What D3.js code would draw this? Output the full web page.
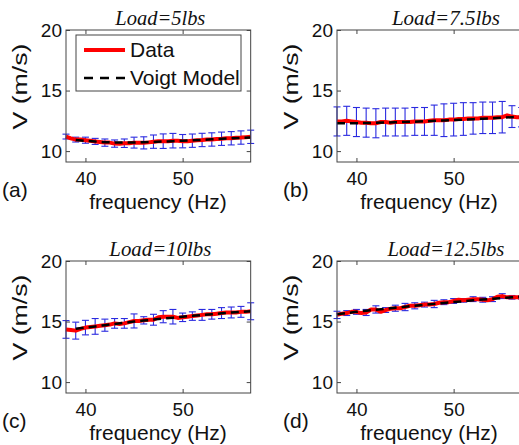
<!DOCTYPE html>
<html>
<head>
<meta charset="utf-8">
<script src="https://cdn.jsdelivr.net/npm/d3@7"></script>
<style>
  body { margin: 0; background: #fff; }
  svg { display: block; }
  .tick text { font-family: "Liberation Sans", Arial, sans-serif; font-size: 19px; fill: #111; }
  .tick line { stroke: #444; }
  .lbl { font-family: "Liberation Sans", Arial, sans-serif; font-size: 21px; fill: #111; }
  .ttl { font-family: "Liberation Serif", "Times New Roman", serif; font-style: italic; font-size: 21px; fill: #111; }
</style>
</head>
<body>
<div id="chart"></div>
<script>
const width = 519;
const height = 445;

// red curve, every 0.5 Hz from 38 to 57
const freqData = [38, 38.5, 39, 39.5, 40, 40.5, 41, 41.5, 42, 42.5, 43, 43.5, 44, 44.5, 45, 45.5, 46, 46.5, 47, 47.5,
  48, 48.5, 49, 49.5, 50, 50.5, 51, 51.5, 52, 52.5, 53, 53.5, 54, 54.5, 55, 55.5, 56, 56.5, 57];
// model and error bars, every 1 Hz
const freqBars = [38, 39, 40, 41, 42, 43, 44, 45, 46, 47, 48, 49, 50, 51, 52, 53, 54, 55, 56, 57];

const titles = ["Load=5lbs", "Load=7.5lbs", "Load=10lbs", "Load=12.5lbs"];
const titleWidths = [90, 108, 102, 117];
const tags = ["(a)", "(b)", "(c)", "(d)"];
const xTicks = [40, 50];
const yTicks = [10, 15, 20];
const legendLabels = ["Data", "Voigt Model"];

const dataA = [11.2, 11.05, 10.95, 10.95, 10.9, 10.85, 10.8, 10.75, 10.7, 10.7, 10.62, 10.6, 10.65, 10.65, 10.7, 10.68, 10.68, 10.72, 10.78, 10.82,
  10.82, 10.82, 10.86, 10.86, 10.82, 10.82, 10.86, 10.9, 10.92, 10.96, 10.96, 11.0, 11.02, 11.06, 11.06, 11.1, 11.12, 11.15, 11.18];
const modelA = [null, 10.92, 10.85, 10.79, 10.74, 10.71, 10.7, 10.71, 10.73, 10.76, 10.79, 10.82, 10.86, 10.89, 10.93, 10.97, 11.01, 11.05, 11.09, 11.13];
const errA = [0.2, 0.2, 0.25, 0.25, 0.3, 0.3, 0.35, 0.45, 0.5, 0.55, 0.6, 0.6, 0.55, 0.55, 0.55, 0.55, 0.55, 0.55, 0.55, 0.55];

const dataB = [12.45, 12.45, 12.5, 12.45, 12.4, 12.35, 12.35, 12.3, 12.3, 12.4, 12.4, 12.35, 12.4, 12.4, 12.4, 12.4, 12.45, 12.45, 12.45, 12.5,
  12.55, 12.55, 12.55, 12.6, 12.6, 12.65, 12.65, 12.7, 12.7, 12.7, 12.75, 12.75, 12.75, 12.8, 12.8, 12.95, 12.85, 12.8, 12.8];
const modelB = [12.3, 12.3, 12.3, 12.32, 12.34, 12.36, 12.38, 12.4, 12.43, 12.46, 12.5, 12.53, 12.57, 12.6, 12.64, 12.68, 12.72, 12.76, 12.8, 12.84];
const errB = [1.2, 1.2, 1.2, 1.2, 1.2, 1.15, 1.15, 1.15, 1.15, 1.15, 1.25, 1.35, 1.35, 1.35, 1.3, 1.3, 1.3, 1.3, 0.9, 0.8];

const dataC = [14.35, 14.3, 14.25, 14.4, 14.5, 14.55, 14.6, 14.65, 14.7, 14.75, 14.85, 14.8, 14.85, 14.95, 15.05, 15.05, 15.1, 15.15, 15.15, 15.35,
  15.4, 15.4, 15.4, 15.3, 15.35, 15.4, 15.45, 15.5, 15.55, 15.6, 15.6, 15.65, 15.7, 15.75, 15.75, 15.75, 15.8, 15.8, 15.85];
const modelC = [null, 14.4, 14.5, 14.6, 14.7, 14.8, 14.9, 15.0, 15.08, 15.16, 15.24, 15.32, 15.4, 15.47, 15.54, 15.61, 15.68, 15.74, 15.8, 15.86];
const errC = [0.73, 0.7, 0.6, 0.65, 0.5, 0.4, 0.4, 0.58, 0.3, 0.45, 0.5, 0.6, 0.35, 0.35, 0.45, 0.4, 0.45, 0.45, 0.45, 0.7];

const dataD = [15.55, 15.65, 15.7, 15.8, 15.8, 15.7, 15.75, 16.0, 16.0, 15.8, 15.95, 16.05, 16.1, 16.1, 16.2, 16.3, 16.3, 16.35, 16.4, 16.4,
  16.45, 16.55, 16.6, 16.6, 16.7, 16.8, 16.75, 16.8, 16.85, 16.85, 16.8, 16.75, 16.85, 17.05, 17.1, 17.0, 17.0, 17.0, 17.0];
const modelD = [15.6, 15.7, 15.8, 15.9, 15.98, 16.06, 16.14, 16.22, 16.3, 16.38, 16.46, 16.54, 16.61, 16.68, 16.75, 16.82, 16.88, 16.94, 17.0, 17.05];
const errD = [0.3, 0.2, 0.2, 0.25, 0.3, 0.2, 0.25, 0.3, 0.25, 0.2, 0.3, 0.2, 0.2, 0.15, 0.2, 0.2, 0.2, 0.2, 0.15, 0.15];

const panels = [
  {data: dataA, model: modelA, err: errA, x0: 66, y0: 30, xMax: 57, tagX: 2, legend: true},
  {data: dataB, model: modelB, err: errB, x0: 337, y0: 30, xMax: 60, tagX: 283, legend: false},
  {data: dataC, model: modelC, err: errC, x0: 66, y0: 261, xMax: 57, tagX: 2, legend: false},
  {data: dataD, model: modelD, err: errD, x0: 337, y0: 261, xMax: 60, tagX: 283, legend: false}
];

const pxPerHz = 9.72;
const plotH = 132;

const svg = d3.select("#chart").append("svg")
  .attr("width", width)
  .attr("height", height);

const drawPanel = (p, i) => {
  const w = (p.xMax - 38) * pxPerHz;
  const x = d3.scaleLinear().domain([38, p.xMax]).range([0, w]);
  const y = d3.scaleLinear().domain([9.1, 20]).range([plotH, 0]);
  const g = svg.append("g").attr("transform", `translate(${p.x0},${p.y0})`);

  // error bars
  const bars = freqBars.map((f, j) => ({f, v: p.data[freqData.indexOf(f)], e: p.err[j]}));
  const eb = g.append("g").attr("stroke", "#2a2ae0").attr("stroke-width", 1.1).attr("fill", "none");
  bars.forEach(b => {
    const cx = x(b.f), top = y(b.v + b.e), bot = y(b.v - b.e);
    eb.append("line").attr("x1", cx).attr("x2", cx).attr("y1", top).attr("y2", bot);
    eb.append("line").attr("x1", cx - 3.5).attr("x2", cx + 3.5).attr("y1", top).attr("y2", top);
    eb.append("line").attr("x1", cx - 3.5).attr("x2", cx + 3.5).attr("y1", bot).attr("y2", bot);
  });

  const line = d3.line().defined(d => d[1] != null).x(d => x(d[0])).y(d => y(d[1]));

  g.append("path")
    .datum(freqData.map((f, j) => [f, p.data[j]]))
    .attr("d", line)
    .attr("fill", "none")
    .attr("stroke", "#ff0000")
    .attr("stroke-width", 4)
    .attr("stroke-linejoin", "round");

  g.append("path")
    .datum(freqBars.map((f, j) => [f, p.model[j]]))
    .attr("d", line)
    .attr("fill", "none")
    .attr("stroke", "#000")
    .attr("stroke-width", 2.5)
    .attr("stroke-dasharray", "8,5");

  // axes, matlab style ticks pointing in
  g.append("g").attr("transform", `translate(0,${plotH})`)
    .call(d3.axisBottom(x).tickValues(xTicks).tickSizeInner(-4).tickSizeOuter(0).tickPadding(10))
    .call(a => a.select(".domain").remove());
  g.append("g")
    .call(d3.axisTop(x).tickValues(xTicks).tickSizeInner(-4).tickSizeOuter(0).tickFormat(""))
    .call(a => a.select(".domain").remove());
  g.append("g")
    .call(d3.axisLeft(y).tickValues(yTicks).tickSizeInner(-4).tickSizeOuter(0).tickPadding(4))
    .call(a => a.select(".domain").remove());
  g.append("g").attr("transform", `translate(${w},0)`)
    .call(d3.axisRight(y).tickValues(yTicks).tickSizeInner(-4).tickSizeOuter(0).tickFormat(""))
    .call(a => a.select(".domain").remove());
  g.selectAll(".tick text").attr("font-family", null).attr("font-size", null);
  g.selectAll(".tick text").filter(function () { return this.parentNode.parentNode.getAttribute("transform") == null; })
    .attr("font-size", 20);

  g.append("rect")
    .attr("width", w).attr("height", plotH)
    .attr("fill", "none").attr("stroke", "#444").attr("stroke-width", 1);

  g.append("text").attr("class", "ttl")
    .attr("x", w / 2 + 2).attr("y", -5)
    .attr("text-anchor", "middle")
    .attr("textLength", titleWidths[i])
    .attr("lengthAdjust", "spacingAndGlyphs")
    .text(titles[i]);

  g.append("text").attr("class", "lbl")
    .attr("x", 92).attr("y", plotH + 47)
    .attr("text-anchor", "middle")
    .text("frequency (Hz)");

  g.append("text").attr("class", "lbl")
    .attr("transform", `translate(-39,${plotH / 2 - 9.5}) rotate(-90)`)
    .attr("text-anchor", "middle")
    .attr("font-size", 22)
    .attr("textLength", 86)
    .attr("lengthAdjust", "spacingAndGlyphs")
    .text("V (m/s)");

  g.append("text").attr("class", "lbl")
    .attr("x", p.tagX - p.x0).attr("y", plotH + 35)
    .text(tags[i]);

  if (p.legend) {
    const lg = g.append("g").attr("transform", "translate(10,5)");
    lg.append("rect").attr("width", 165).attr("height", 56)
      .attr("fill", "#fff").attr("stroke", "#444").attr("stroke-width", 1);
    lg.append("line").attr("x1", 8).attr("x2", 49).attr("y1", 15).attr("y2", 15)
      .attr("stroke", "#ff0000").attr("stroke-width", 4);
    lg.append("line").attr("x1", 8).attr("x2", 49).attr("y1", 43).attr("y2", 43)
      .attr("stroke", "#000").attr("stroke-width", 2.5).attr("stroke-dasharray", "9,7");
    legendLabels.forEach((t, k) => {
      lg.append("text").attr("class", "lbl")
        .attr("x", 54).attr("y", 22 + k * 28)
        .text(t);
    });
  }
};

panels.forEach(drawPanel);
</script>
</body>
</html>
